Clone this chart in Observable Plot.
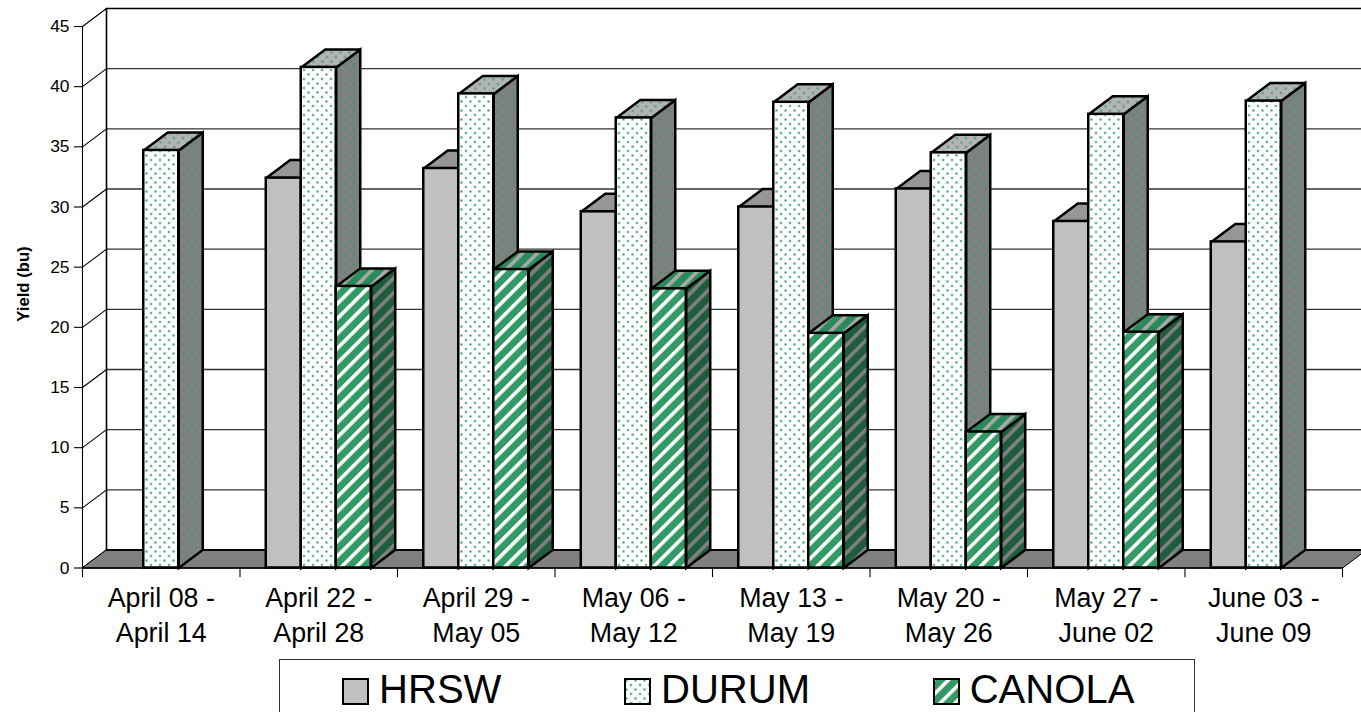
<!DOCTYPE html>
<html>
<head>
<meta charset="utf-8">
<script src="https://cdn.jsdelivr.net/npm/d3@7"></script>
<script src="https://cdn.jsdelivr.net/npm/@observablehq/plot@0.6"></script>
<style>
  html, body { margin: 0; padding: 0; background: #fff; overflow: hidden; }
  svg.chart { display: block; }
  #legend {
    position: relative; margin-left: 279px; width: 916px; height: 60px; box-sizing: border-box;
    border: 1px solid #333; display: flex; gap: 122.5px; padding-left: 62px; padding-top: 0;
    font: 40.1px "Liberation Sans", Arial, sans-serif; color: #000; line-height: 46px;
  }
  #legend .item { display: flex; align-items: center; gap: 10px; white-space: nowrap; }
  #legend svg { display: block; width: 27px; height: 27px; margin-top: 4px; }
</style>
</head>
<body>
<div id="chart"></div>
<div id="legend"></div>
<script>
const periods = ["April 08 -\nApril 14", "April 22 -\nApril 28", "April 29 -\nMay 05", "May 06 -\nMay 12",
                 "May 13 -\nMay 19", "May 20 -\nMay 26", "May 27 -\nJune 02", "June 03 -\nJune 09"];
const hrsw   = [null, 32.4, 33.2, 29.6, 30.0, 31.5, 28.8, 27.1];
const durum  = [34.7, 41.6, 39.4, 37.4, 38.7, 34.5, 37.7, 38.8];
const canola = [null, 23.4, 24.8, 23.2, 19.5, 11.3, 19.6, null];
const seriesNames = ["HRSW", "DURUM", "CANOLA"];
const yTicks = [0, 5, 10, 15, 20, 25, 30, 35, 40, 45];

// Chart geometry in data units
const barW = 0.2222, depthX = 0.1524, depthY = 1.496;
const seriesValues = [hrsw, durum, canola];
const fills = [
  {front: "#c0c0c0", top: "#969696", side: "#808080"},
  {front: "url(#dotFront)", top: "url(#dotTop)", side: "url(#dotSide)"},
  {front: "url(#stripeFront)", top: "url(#stripeTop)", side: "url(#stripeSide)"}
];

const pts = a => a.map(([x, y]) => ({x, y}));
const poly = (corners, o) => Plot.line(pts(corners), {
  x: "x", y: "y", curve: "linear-closed", strokeLinejoin: "miter", strokeMiterlimit: 3, ...o
});
const seg = (corners, o) => Plot.line(pts(corners), {x: "x", y: "y", stroke: "#000", ...o});

const barMarks = periods.flatMap((_, i) => seriesValues.flatMap((vals, s) => {
  const v = vals[i];
  if (v == null) return [];
  const x0 = i + 0.5 - 1.5 * barW + s * barW, x1 = x0 + barW;
  const f = {stroke: "#000", strokeWidth: 2.5};
  return [
    poly([[x1, 0], [x1 + depthX, depthY], [x1 + depthX, v + depthY], [x1, v]], {fill: fills[s].side, ...f}),
    poly([[x0, v], [x1, v], [x1 + depthX, v + depthY], [x0 + depthX, v + depthY]], {fill: fills[s].top, ...f}),
    Plot.rect([{x0, x1, v}], {x1: "x0", x2: "x1", y1: 0, y2: "v", fill: fills[s].front, ...f, inset: 0})
  ];
}));

const defsMark = () => {
  const defs = d3.create("svg:defs");
  const dots = (id, bg) => {
    const p = defs.append("pattern").attr("id", id).attr("patternUnits", "userSpaceOnUse").attr("width", 9).attr("height", 9);
    p.append("rect").attr("width", 9).attr("height", 9).attr("fill", bg);
    for (const c of [1, 5.5]) {
      p.append("rect").attr("x", c).attr("y", c).attr("width", 3).attr("height", 3).attr("fill", "#339966").attr("fill-opacity", 0.25);
      p.append("rect").attr("x", c + 0.7).attr("y", c + 0.7).attr("width", 1.6).attr("height", 1.6).attr("fill", "#339966");
    }
  };
  const stripes = (id, bg, stripe) => {
    const p = defs.append("pattern").attr("id", id).attr("patternUnits", "userSpaceOnUse")
      .attr("width", 10.5).attr("height", 10.5).attr("patternTransform", "rotate(45)");
    p.append("rect").attr("width", 10.5).attr("height", 10.5).attr("fill", bg);
    p.append("rect").attr("width", 3.6).attr("height", 10.5).attr("fill", stripe);
  };
  dots("dotFront", "#ffffff"); dots("dotTop", "#b4b4b4"); dots("dotSide", "#808080");
  stripes("stripeFront", "#339966", "#ffffff");
  stripes("stripeTop", "#2b8a5a", "#a9a9a9");
  stripes("stripeSide", "#1d5c3c", "#808080");
  return defs.node();
};

const chart = Plot.plot({
  width: 1361, height: 659,
  marginLeft: 82, marginRight: 19, marginTop: 26, marginBottom: 91.5,
  className: "chart",
  style: {fontFamily: '"Liberation Sans", Arial, sans-serif', color: "#000", background: "#fff"},
  x: {domain: [0, 8], axis: null},
  y: {domain: [0, 45], axis: null},
  marks: [
    defsMark,
    // back wall grid and side-wall diagonals
    ...yTicks.slice(0, -1).map(t => seg([[depthX, t + depthY], [8 + depthX, t + depthY]], {stroke: "#333", strokeWidth: 1.3})),
    seg([[depthX, 45 + depthY], [8 + depthX, 45 + depthY]], {strokeWidth: 1.6}),
    seg([[depthX, depthY], [depthX, 45 + depthY]], {strokeWidth: 1.6}),
    ...yTicks.map(t => seg([[0, t], [depthX, t + depthY]], {strokeWidth: 1.1})),
    // floor
    poly([[0, 0], [8, 0], [8 + depthX, depthY], [depthX, depthY]], {fill: "#808080", stroke: "#000", strokeWidth: 1}),
    seg([[depthX, depthY], [8 + depthX, depthY]], {strokeWidth: 2.2}),
    // axes
    Plot.axisY({ticks: yTicks, tickSize: 8, tickPadding: 5, fontSize: 17.4, label: null, stroke: "#000", strokeWidth: 1.1}),
    seg([[0, 0], [0, 45]], {strokeWidth: 1.1}),
    seg([[0, 0], [8, 0]], {strokeWidth: 1.3}),
    Plot.ruleX(d3.range(0, 9), {x: d => d, y1: 0, y2: -0.8, stroke: "#000", strokeWidth: 1.1}),
    // bars
    ...barMarks,
    // category labels
    Plot.text(periods, {x: (d, i) => i + 0.5, y: 0, text: d => d, dy: 14, lineAnchor: "top", lineHeight: 1.3,
      fontSize: 26.8, fill: "#000", textAnchor: "middle"}),
    Plot.text(["Yield (bu)"], {x: -0.375, y: 23.6, rotate: -90, text: d => d, fontSize: 16.7, fontWeight: "bold", fill: "#000"})
  ]
});
document.getElementById("chart").append(chart);

const legend = d3.select("#legend");
seriesNames.forEach((name, s) => {
  const item = legend.append("div").attr("class", "item");
  item.append("svg").attr("viewBox", "0 0 27 27").append("rect")
    .attr("x", 1).attr("y", 1).attr("width", 25).attr("height", 25)
    .attr("fill", fills[s].front).attr("stroke", "#000").attr("stroke-width", 2);
  item.append("span").text(name);
});
</script>
</body>
</html>
